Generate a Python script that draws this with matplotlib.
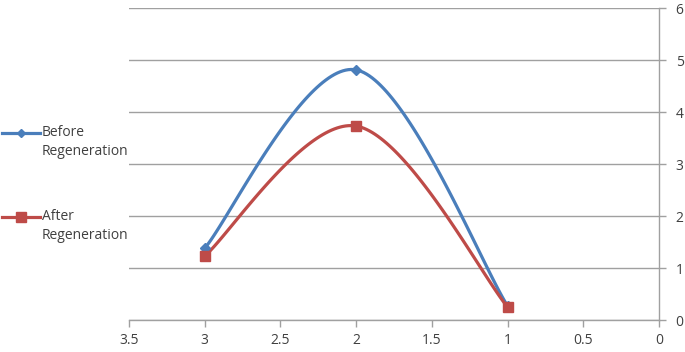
import numpy as np
import matplotlib.pyplot as plt
from matplotlib.lines import Line2D

# data
x_vals = [3, 2, 1]
before_regen = [1.38, 4.81, 0.27]
after_regen = [1.23, 3.73, 0.25]
series_names = ['Before\nRegeneration', 'After\nRegeneration']

BLUE = '#4A7EBB'
RED = '#BE4B48'
GRID = '#A0A0A0'
TXT = '#404040'
W, H = 685, 352


def smooth(xs, ys, n=60):
    # Excel-style smoothed line: Bezier segments, controls from neighbours / 6
    pts = np.column_stack([xs, ys]).astype(float)
    ext = np.vstack([pts[0], pts, pts[-1]])
    out = []
    for i in range(len(pts) - 1):
        p0, p1, p2, p3 = ext[i], ext[i + 1], ext[i + 2], ext[i + 3]
        c1 = p1 + (p2 - p0) / 6
        c2 = p2 - (p3 - p1) / 6
        t = np.linspace(0, 1, n)[:, None]
        seg = ((1 - t) ** 3) * p1 + 3 * ((1 - t) ** 2) * t * c1 + 3 * (1 - t) * t ** 2 * c2 + t ** 3 * p2
        out.append(seg)
    out = np.vstack(out)
    return out[:, 0], out[:, 1]


plt.rcParams['font.family'] = ['Open Sans', 'DejaVu Sans']

fig = plt.figure(figsize=(W / 100, H / 100), dpi=100)
ax = fig.add_axes([129 / W, 1 - 320 / H, 530 / W, 312 / H])

sx, sy = smooth(x_vals, before_regen)
ax.plot(sx, sy, color=BLUE, lw=2.3, zorder=3)
ax.plot(x_vals, before_regen, ls='none', marker='D', ms=5, color=BLUE, zorder=4)

sx, sy = smooth(x_vals, after_regen)
ax.plot(sx, sy, color=RED, lw=2.3, zorder=3)
ax.plot(x_vals, after_regen, ls='none', marker='s', ms=7, color=RED, zorder=4)

ax.set_xlim(3.5, 0)
ax.set_ylim(0, 6)
ax.set_xticks(np.arange(0, 3.51, 0.5))
ax.set_xticklabels(['0', '0.5', '1', '1.5', '2', '2.5', '3', '3.5'])
ax.set_yticks(range(7))

ax.yaxis.tick_right()
for s in ['top', 'left']:
    ax.spines[s].set_visible(False)
for s in ['bottom', 'right']:
    ax.spines[s].set_color(GRID)
    ax.spines[s].set_linewidth(1.0)

ax.grid(axis='y', color=GRID, lw=1.0)
ax.set_axisbelow(True)
ax.tick_params(axis='both', colors=GRID, length=5, width=1.0, labelsize=10, labelcolor=TXT)
ax.tick_params(axis='y', pad=7)
ax.tick_params(axis='x', pad=4)

# legend on the left, handle lined up with the first text line
legend_rows = [(133, BLUE, 'D', 4.5), (217, RED, 's', 6.5)]
for (yp, col, mk, ms), name in zip(legend_rows, series_names):
    fy = 1 - yp / H
    fig.add_artist(Line2D([2 / W, 40 / W], [fy, fy], color=col, lw=2.3, transform=fig.transFigure))
    fig.add_artist(Line2D([21 / W], [fy], color=col, marker=mk, ms=ms, transform=fig.transFigure))
    fig.text(42 / W, fy + 8 / H, name, ha='left', va='top', fontsize=10,
             color=TXT, linespacing=1.35)

fig.savefig('out.png', dpi=100)
